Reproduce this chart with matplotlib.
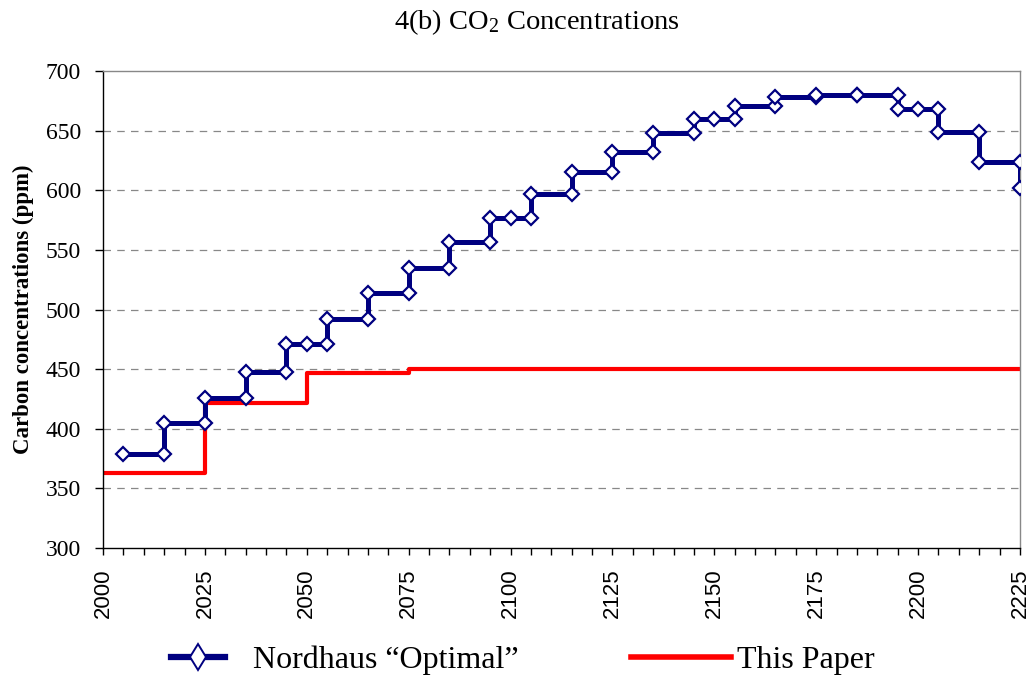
import matplotlib
matplotlib.use("Agg")
import matplotlib.pyplot as plt
from matplotlib.lines import Line2D
from matplotlib.ticker import MultipleLocator

plt.rcParams["mathtext.fontset"] = "custom"
plt.rcParams["mathtext.rm"] = "Liberation Serif"
plt.rcParams["mathtext.it"] = "Liberation Serif:italic"
plt.rcParams["mathtext.bf"] = "Liberation Serif:bold"

# Nordhaus "Optimal" step vertices (year, ppm)
nordhaus_years = [2005, 2015, 2015, 2025, 2025, 2035, 2035, 2045, 2045, 2050, 2055,
                  2055, 2065, 2065, 2075, 2075, 2085, 2085, 2095, 2095, 2100, 2105,
                  2105, 2115, 2115, 2125, 2125, 2135, 2135, 2145, 2145, 2150, 2155,
                  2155, 2165, 2165, 2175, 2175, 2185, 2185, 2195, 2195, 2200, 2205,
                  2205, 2215, 2215, 2225, 2225]
nordhaus_ppm = [379, 379, 405, 405, 426, 426, 448, 448, 471, 471, 471,
                492, 492, 514, 514, 535, 535, 557, 557, 577, 577, 577,
                597, 597, 615, 615, 632, 632, 648, 648, 660, 660, 660,
                671, 671, 678, 678, 680, 680, 680, 680, 668, 668, 668,
                649, 649, 624, 624, 602]

# This paper: step values starting at each year
paper_years = [2000, 2025, 2050, 2075, 2225]
paper_ppm = [363, 422, 447, 450, 450]

title = "4(b) CO$_2$ Concentrations"
ylabel = "Carbon concentrations (ppm)"
label_nordhaus = "Nordhaus \u201cOptimal\u201d"
label_paper = "This Paper"

serif = ["Liberation Serif", "DejaVu Serif"]
sans = ["Liberation Sans", "DejaVu Sans"]
navy = "#000080"
red = "#ff0000"

fig = plt.figure(figsize=(10.31, 6.77), dpi=100)
ax = fig.add_axes([0.0999, 0.1905, 0.8894, 0.7046])

ax.plot(nordhaus_years, nordhaus_ppm, color=navy, lw=3.6,
        marker="D", markersize=6.8, markerfacecolor="white",
        markeredgecolor=navy, markeredgewidth=1.6, zorder=3)
ax.plot(paper_years, paper_ppm, color=red, lw=3.0,
        drawstyle="steps-post", zorder=2)

ax.set_xlim(2000, 2225)
ax.set_ylim(300, 700)
ax.xaxis.set_major_locator(MultipleLocator(25))
ax.xaxis.set_minor_locator(MultipleLocator(5))
ax.yaxis.set_major_locator(MultipleLocator(50))

for y in range(350, 700, 50):
    ax.axhline(y, color="#888888", lw=0.9, ls=(0, (6, 5)), zorder=1)

ax.spines["left"].set_color("black")
ax.spines["bottom"].set_color("black")
ax.spines["top"].set_color("#888888")
ax.spines["right"].set_color("#888888")
for s in ax.spines.values():
    s.set_linewidth(1.0)

ax.tick_params(axis="x", which="major", direction="out", length=5, width=1,
               labelsize=16, rotation=90, pad=10)
ax.tick_params(axis="x", which="minor", direction="out", length=5, width=1)
ax.tick_params(axis="y", direction="out", length=6, width=1, labelsize=17, pad=10)
for lab in ax.get_xticklabels():
    lab.set_family(sans)
for lab in ax.get_yticklabels():
    lab.set_family(serif)

ax.set_ylabel(ylabel, family=serif, fontsize=16.5, fontweight="bold", labelpad=8)
fig.text(0.521, 0.968, title, ha="center", va="center", family=serif, fontsize=20.5)

h_nord = Line2D([], [], color=navy, lw=4.5, marker="d", markersize=13,
                markerfacecolor="white", markeredgecolor=navy, markeredgewidth=1.4)
h_paper = Line2D([], [], color=red, lw=4.0)
prop = {"family": serif, "size": 23}
leg1 = fig.legend([h_nord], [label_nordhaus], loc="center left",
                  bbox_to_anchor=(0.166, 0.025), frameon=False, prop=prop,
                  handlelength=1.7, handletextpad=0.85, borderaxespad=0, borderpad=0)
leg2 = fig.legend([h_paper], [label_paper], loc="center left",
                  bbox_to_anchor=(0.6125, 0.025), frameon=False, prop=prop,
                  handlelength=3.1, handletextpad=0.2, borderaxespad=0, borderpad=0)

fig.savefig("out.png", dpi=100)
